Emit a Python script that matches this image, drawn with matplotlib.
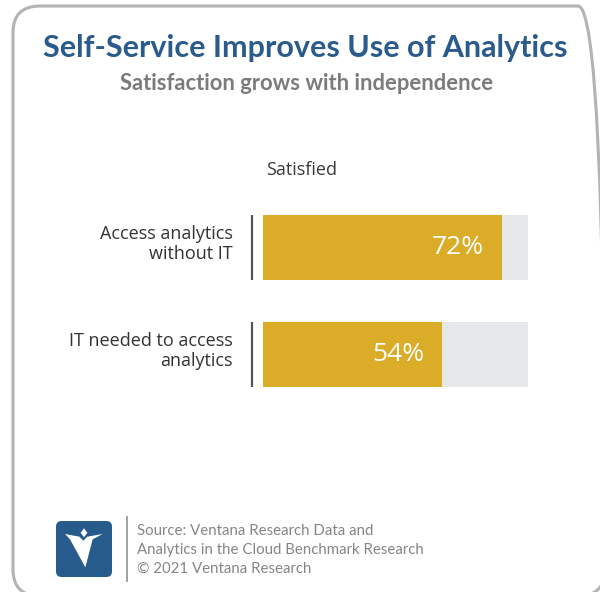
import matplotlib
matplotlib.use("Agg")
import matplotlib.pyplot as plt
from matplotlib.patches import FancyBboxPatch, Polygon
import matplotlib.transforms as mtransforms

# chart data
categories = ["Access analytics\nwithout IT", "IT needed to access\nanalytics"]
satisfied = [72, 54]
axis_max = 80

title = "Self-Service Improves Use of Analytics"
subtitle = "Satisfaction grows with independence"
series_name = "Satisfied"
source_lines = ["Source: Ventana Research Data and",
                "Analytics in the Cloud Benchmark Research",
                "\u00a9 2021 Ventana Research"]

W, H = 600, 592
fig = plt.figure(figsize=(W / 100, H / 100), dpi=100)
fig.patch.set_facecolor("white")

def fx(px):
    return px / W

def fy(py):
    return 1 - py / H

# rounded frame (runs off the right and bottom edges a little)
frame = FancyBboxPatch((fx(13), fy(596)), fx(592), 590 / H,
                       boxstyle="round,pad=0,rounding_size=0.045",
                       transform=fig.transFigure, facecolor="none",
                       edgecolor="#b3b3b3", linewidth=2.2)
fig.patches.append(frame)

fig.text(fx(305), fy(48), title, ha="center", va="center", fontsize=22,
         fontweight="bold", color="#2a5b8c", family="Lato")
fig.text(fx(307), fy(84), subtitle, ha="center", va="center", fontsize=15.8,
         fontweight="bold", color="#7b7b7b", family="Lato")
fig.text(fx(302), fy(170), series_name, ha="center", va="center",
         fontsize=13, color="#3a3a3a", family="Open Sans")

# bars
ax = fig.add_axes([fx(263), fy(387), fx(528) - fx(263), 172 / H])
h = 0.607
y = list(range(len(categories)))
ax.barh(y, [axis_max] * len(y), height=h, color="#e6e7e8")
ax.barh(y, satisfied, height=h, color="#dbac27")
ax.set_xlim(0, axis_max)
ax.set_ylim(len(y) - 1 + h / 2, -h / 2)
ax.axis("off")

tr = mtransforms.blended_transform_factory(ax.transAxes, ax.transData)
for i, (cat, v) in enumerate(zip(categories, satisfied)):
    ax.text(v - 5.3, i, f"{v}%", ha="right", va="center", fontsize=19,
            color="white", family="Open Sans")
    ax.text(-0.113, i - 0.03, cat, transform=tr, ha="right", va="center",
            fontsize=13, color="#333333", family="Open Sans",
            linespacing=1.15)
    ax.plot([-0.042, -0.042], [i - h / 2, i + h / 2], transform=tr,
            color="#555555", lw=1.6, clip_on=False, solid_capstyle="butt")

# logo
lax = fig.add_axes([fx(56), fy(577), 56 / W, 56 / H])
lax.set_xlim(0, 1)
lax.set_ylim(0, 1)
lax.axis("off")
lax.add_patch(FancyBboxPatch((0.0, 0.0), 1.0, 1.0,
                             boxstyle="round,pad=0,rounding_size=0.1",
                             facecolor="#275b8c", edgecolor="none"))
lax.add_patch(Polygon([(0.161, 0.768), (0.417, 0.72), (0.488, 0.649),
                       (0.56, 0.72), (0.833, 0.768), (0.655, 0.673),
                       (0.524, 0.173), (0.25, 0.673)],
                      closed=True, facecolor="white", edgecolor="none"))
lax.add_patch(Polygon([(0.5, 0.87), (0.56, 0.79), (0.5, 0.71), (0.44, 0.79)],
                      closed=True, facecolor="white", edgecolor="none"))

fig.add_artist(plt.Line2D([fx(127), fx(127)], [fy(581), fy(517)],
                          transform=fig.transFigure, color="#9a9a9a", lw=1.3))
for k, line in enumerate(source_lines):
    fig.text(fx(137), fy(531 + 19 * k), line, ha="left", va="center",
             fontsize=10.8, color="#858585", family="Lato")

fig.savefig("out.png", dpi=100)
